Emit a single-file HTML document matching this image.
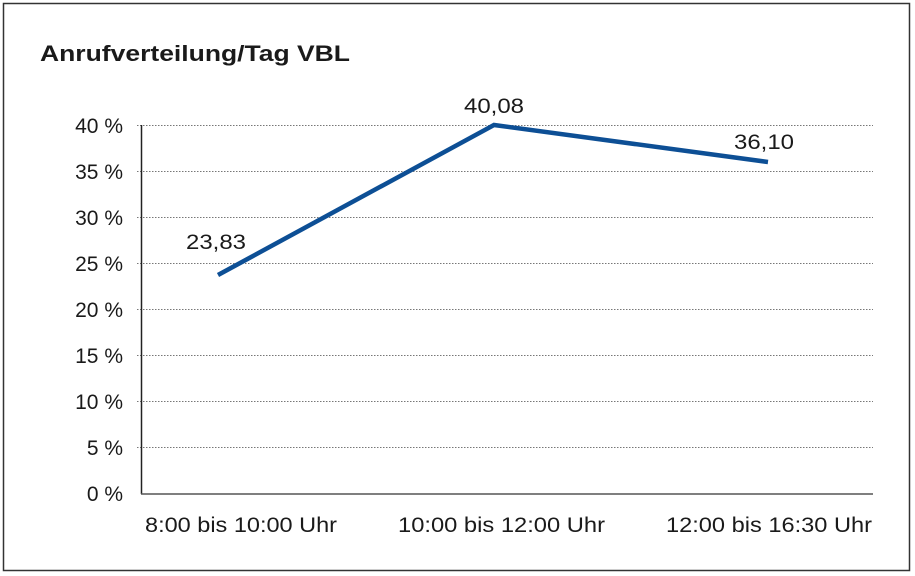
<!DOCTYPE html>
<html><head><meta charset="utf-8"><style>
html,body{margin:0;padding:0;background:#fff;}
svg{display:block;}
text{font-family:"Liberation Sans",Arial,sans-serif;fill:#1a1a1a;}
</style></head><body>
<svg width="915" height="576" viewBox="0 0 915 576">
<rect x="3.5" y="3.5" width="906" height="567" fill="#fff" stroke="#333" stroke-width="1.5"/>
<text x="40" y="61" font-size="22" font-weight="bold" textLength="310" lengthAdjust="spacingAndGlyphs">Anrufverteilung/Tag VBL</text>
<g stroke="#777" stroke-width="1" stroke-dasharray="1.5,1.5">
<line x1="137" y1="125.5" x2="873" y2="125.5"/>
<line x1="137" y1="171.5" x2="873" y2="171.5"/>
<line x1="137" y1="217.5" x2="873" y2="217.5"/>
<line x1="137" y1="263.5" x2="873" y2="263.5"/>
<line x1="137" y1="309.5" x2="873" y2="309.5"/>
<line x1="137" y1="355.5" x2="873" y2="355.5"/>
<line x1="137" y1="401.5" x2="873" y2="401.5"/>
<line x1="137" y1="447.5" x2="873" y2="447.5"/>
</g>
<line x1="141.5" y1="125" x2="141.5" y2="494" stroke="#222" stroke-width="1.5"/>
<line x1="141" y1="494" x2="873" y2="494" stroke="#555" stroke-width="1.5"/>
<g font-size="21" text-anchor="end">
<text x="123" y="133">40 %</text>
<text x="123" y="179">35 %</text>
<text x="123" y="225">30 %</text>
<text x="123" y="271">25 %</text>
<text x="123" y="317">20 %</text>
<text x="123" y="363">15 %</text>
<text x="123" y="409">10 %</text>
<text x="123" y="455">5 %</text>
<text x="123" y="501">0 %</text>
</g>
<g font-size="21">
<text x="145" y="532" textLength="192" lengthAdjust="spacingAndGlyphs">8:00 bis 10:00 Uhr</text>
<text x="398" y="532" textLength="207" lengthAdjust="spacingAndGlyphs">10:00 bis 12:00 Uhr</text>
<text x="666" y="532" textLength="206" lengthAdjust="spacingAndGlyphs">12:00 bis 16:30 Uhr</text>
</g>
<polyline points="218,275 494,125 768,162" fill="none" stroke="#0d4f95" stroke-width="4.5" stroke-linejoin="miter"/>
<g font-size="21">
<text x="186" y="249" textLength="60" lengthAdjust="spacingAndGlyphs">23,83</text>
<text x="464" y="113" textLength="60" lengthAdjust="spacingAndGlyphs">40,08</text>
<text x="734" y="149" textLength="60" lengthAdjust="spacingAndGlyphs">36,10</text>
</g>
</svg>
</body></html>
